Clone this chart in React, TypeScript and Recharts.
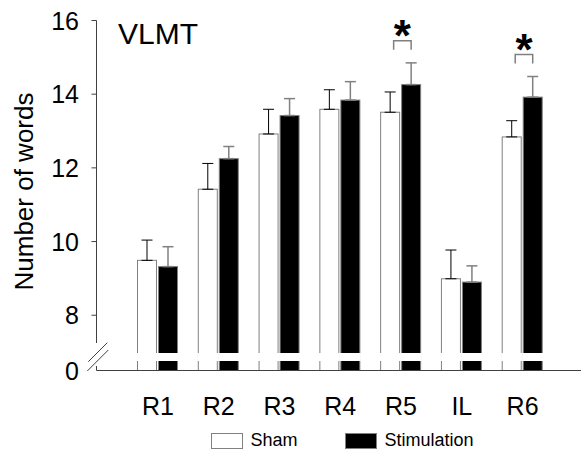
import React from "react";
import {
   BarChart,
   Bar,
   XAxis,
   YAxis,
   ErrorBar,
   LabelList,
   Legend,
   Customized,
} from "recharts";

const categories = ["R1", "R2", "R3", "R4", "R5", "IL", "R6"];
const shamMeans = [9.49, 11.42, 12.92, 13.59, 13.51, 8.99, 12.84];
const shamErr = [0.55, 0.7, 0.67, 0.53, 0.55, 0.78, 0.44];
const stimMeans = [9.32, 12.25, 13.42, 13.84, 14.26, 8.9, 13.92];
const stimErr = [0.54, 0.33, 0.46, 0.5, 0.59, 0.44, 0.56];
const significant = [false, false, false, false, true, false, true];
const yTickLabels = [0, 8, 10, 12, 14, 16];

// axis is broken between 0 and 8: values above the break are shifted down
const BREAK_SHIFT = 6.5;
const toAxis = (v: number) => (v === 0 ? 0 : v - BREAK_SHIFT);

const FONT = '"Liberation Sans", Arial, sans-serif';
const AXIS = "#404040";
const OUTLINE = "#808080";

const data = categories.map((name, i) => ({
   name,
   sham: toAxis(shamMeans[i]),
   shamErr: [0, shamErr[i]],
   stim: toAxis(stimMeans[i]),
   stimErr: [0, stimErr[i]],
}));

const BrokenBar = (props: any) => {
   const { x, y, width, height, fill, stroke } = props;
   if (!height || height <= 0) return null;
   const bottom = y + height;
   return (
      <g>
         <rect x={x} y={y} width={width} height={height} fill={fill} stroke={stroke} />
         <rect x={x - 1} y={bottom - 17.5} width={width + 2} height={8} fill="#fff" />
      </g>
   );
};

const YTick = (props: any) => {
   const { x, y, payload } = props;
   const t = payload.value;
   const label = t === 0 ? "0" : String(Math.round(t + BREAK_SHIFT));
   return (
      <g>
         {t !== 0 && <line x1={x - 5} x2={x} y1={y} y2={y} stroke={AXIS} />}
         {t === 0 && (
            <g>
               <rect x={x - 3} y={y - 27.5} width={6} height={23} fill="#fff" />
               <line x1={x - 8.2} y1={y - 8.8} x2={x + 10.8} y2={y - 27.8} stroke={AXIS} />
               <line x1={x - 9.2} y1={y + 0.5} x2={x + 11.8} y2={y - 20.5} stroke={AXIS} />
            </g>
         )}
         <text x={x - 17.5} y={y + 9} textAnchor="end" fontSize={25} fontFamily={FONT} fill="#000">
            {label}
         </text>
      </g>
   );
};

const XTick = (props: any) => {
   const { x, y, payload } = props;
   return (
      <text x={x} y={y + 36} textAnchor="middle" fontSize={25} fontFamily={FONT} fill="#000">
         {payload.value}
      </text>
   );
};

const SigMark = (props: any) => {
   const { x, y, width, height, value, index } = props;
   if (!significant[index] || !value) return null;
   const errTop = y - (stimErr[index] * height) / value;
   const bottom = errTop - 13;
   const top = bottom - 9;
   const left = x - 8;
   const right = x + width / 2;
   const cx = (left + right) / 2;
   return (
      <g>
         <polyline
            points={`${left},${bottom} ${left},${top} ${right},${top} ${right},${bottom}`}
            fill="none"
            stroke={OUTLINE}
            strokeWidth={1.5}
         />
         <text x={cx} y={top + 10} textAnchor="middle" fontSize={44} fontWeight="bold" fontFamily={FONT} fill="#000">
            *
         </text>
      </g>
   );
};

const renderLegend = (props: any) => {
   const { payload } = props;
   return (
      <div style={{ display: "flex", alignItems: "flex-start", fontFamily: FONT, fontSize: 18 }}>
         {(payload || []).map((entry: any, i: number) => (
            <div key={i} style={{ display: "flex", alignItems: "flex-start", marginRight: 47 }}>
               <div
                  style={{
                     width: 32,
                     height: 16,
                     marginTop: 0.8,
                     boxSizing: "border-box",
                     border: `1px solid ${OUTLINE}`,
                     background: i === 0 ? "#fff" : "#000",
                  }}
               />
               <span style={{ marginLeft: 8, lineHeight: "15px", color: "#000" }}>{entry.value}</span>
            </div>
         ))}
      </div>
   );
};

const Title = () => (
   <text x={118} y={43.5} fontSize={30} fontFamily={FONT} fill="#000">
      VLMT
   </text>
);

const App: React.FC = () => {
   return (
      <div style={{ position: "absolute", left: 0, top: 0 }}>
         <BarChart
            width={581}
            height={451}
            data={data}
            margin={{ top: 20.5, right: 0, bottom: 0, left: 0.5 }}
            barSize={19}
            barGap={2}
         >
            <XAxis
               dataKey="name"
               height={80.5}
               interval={0}
               tickLine={false}
               axisLine={{ stroke: AXIS }}
               tick={<XTick />}
               padding={{ left: 31, right: 28 }}
            />
            <YAxis
               width={96}
               domain={[0, 9.5]}
               ticks={yTickLabels.map(toAxis)}
               tickLine={false}
               tickSize={0}
               tickMargin={0}
               axisLine={{ stroke: AXIS }}
               tick={<YTick />}
               label={{
                  content: () => (
                     <text
                        x={33}
                        y={191.5}
                        transform="rotate(-90, 33, 191.5)"
                        textAnchor="middle"
                        fontSize={26}
                        fontFamily={FONT}
                        fill="#000"
                     >
                        Number of words
                     </text>
                  ),
               }}
            />
            <Legend
               verticalAlign="middle"
               content={renderLegend}
               wrapperStyle={{ position: "absolute", left: 210.5, top: 432.5, width: 370 }}
            />
            <Bar
               dataKey="sham"
               name="Sham"
               fill="#fff"
               stroke={OUTLINE}
               shape={<BrokenBar />}
               isAnimationActive={false}
            >
               <ErrorBar dataKey="shamErr" direction="y" width={5.5} stroke="#000" strokeWidth={1} />
            </Bar>
            <Bar
               dataKey="stim"
               name="Stimulation"
               fill="#000"
               stroke={OUTLINE}
               shape={<BrokenBar />}
               isAnimationActive={false}
            >
               <ErrorBar dataKey="stimErr" direction="y" width={5.5} stroke={OUTLINE} strokeWidth={1.5} />
               <LabelList dataKey="stim" content={<SigMark />} />
            </Bar>
            <Customized component={<Title />} />
         </BarChart>
      </div>
   );
};

export default App;
